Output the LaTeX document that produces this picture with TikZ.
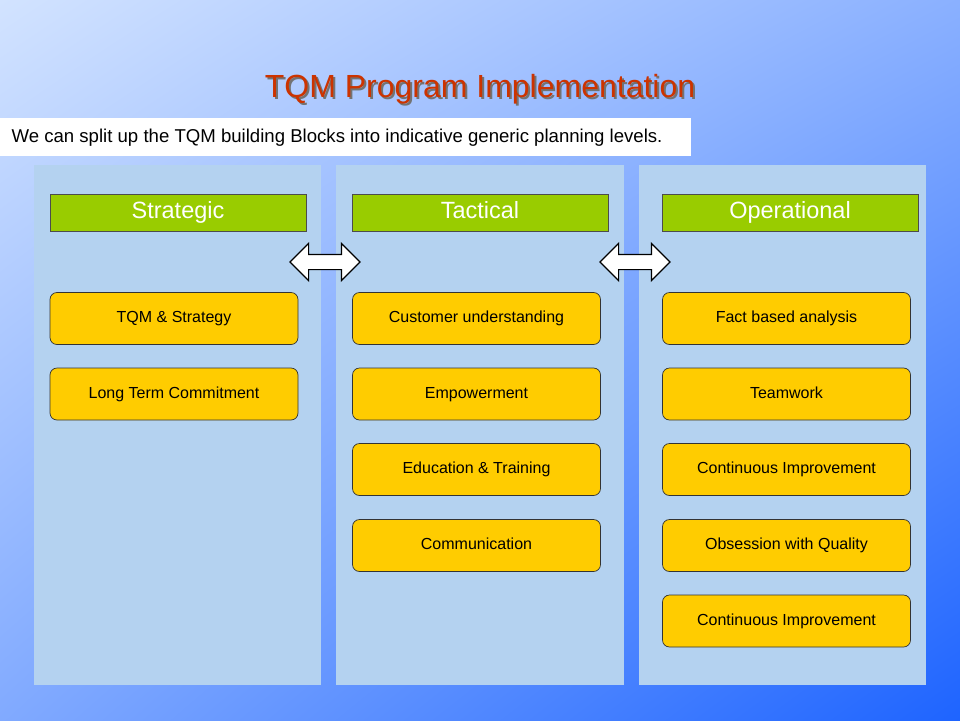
\documentclass[tikz,border=0pt]{standalone}
\usepackage{fontspec}
\setmainfont{Liberation Sans}
\usetikzlibrary{shapes.arrows,shadows,shadings}
\definecolor{bgA}{HTML}{D2E3FF}
\definecolor{bgB}{HTML}{1E64FF}
\definecolor{panel}{HTML}{B4D2F0}
\definecolor{hdr}{HTML}{99CC00}
\definecolor{box}{HTML}{FFCC00}
\definecolor{ttl}{HTML}{CC3300}
\begin{document}
\begin{tikzpicture}[x=1pt,y=-1pt,
  panel/.style={fill=panel,draw=none},
  hdr/.style={fill=hdr,draw=black!70,line width=0.6pt,minimum width=256pt,minimum height=37pt,inner sep=0,text=white,text height=16pt,text depth=5pt,font=\fontsize{23.5}{26}\selectfont},
  blk/.style={fill=box,draw=black!80,line width=0.7pt,rounded corners=7pt,minimum width=248pt,minimum height=52pt,inner sep=0,text height=11pt,text depth=3pt,font=\fontsize{16}{19}\selectfont},
  dbl/.style={double arrow,draw=black,line width=1.2pt,fill=white,minimum height=70pt,inner xsep=0pt,inner ysep=7pt,double arrow head extend=11pt}]
\useasboundingbox (0,0) rectangle (960,720);
\shade[upper left=bgA,upper right=bgA!60!bgB,lower left=bgA!55!bgB,lower right=bgB] (0,0) rectangle (960,720);
\node (title)[font=\fontsize{32}{36}\selectfont,text=ttl,
  preaction={}] at (480,90) {\rlap{\kern2pt\raisebox{-2pt}{\textcolor{black!55}{TQM Program Implementation}}}TQM Program Implementation};
\fill[white] (0,118) rectangle (691,156);
\node (sub)[anchor=west,font=\fontsize{18.6}{21}\selectfont] at (8,138) {We can split up the TQM building Blocks into indicative generic planning levels.};
\fill[panel] (34,165) rectangle (321,685);
\fill[panel] (336,165) rectangle (624,685);
\fill[panel] (639,165) rectangle (926,685);
\node (h1)[hdr] at (178,212.5) {Strategic};
\node (h2)[hdr] at (480,212.5) {Tactical};
\node (h3)[hdr] at (790,212.5) {Operational};
\node (a1)[dbl] at (325,262) {};
\node (a2)[dbl] at (635,262) {};
\node (s1)[blk] at (174,318.5) {TQM \& Strategy};
\node (s2)[blk] at (174,394) {Long Term Commitment};
\node (t1)[blk] at (476.5,318.5) {Customer understanding};
\node (t2)[blk] at (476.5,394) {Empowerment};
\node (t3)[blk] at (476.5,469.5) {Education \& Training};
\node (t4)[blk] at (476.5,545.5) {Communication};
\node (o1)[blk] at (786.5,318.5) {Fact based analysis};
\node (o2)[blk] at (786.5,394) {Teamwork};
\node (o3)[blk] at (786.5,469.5) {Continuous Improvement};
\node (o4)[blk] at (786.5,545.5) {Obsession with Quality};
\node (o5)[blk] at (786.5,621) {Continuous Improvement};
\end{tikzpicture}
\end{document}
